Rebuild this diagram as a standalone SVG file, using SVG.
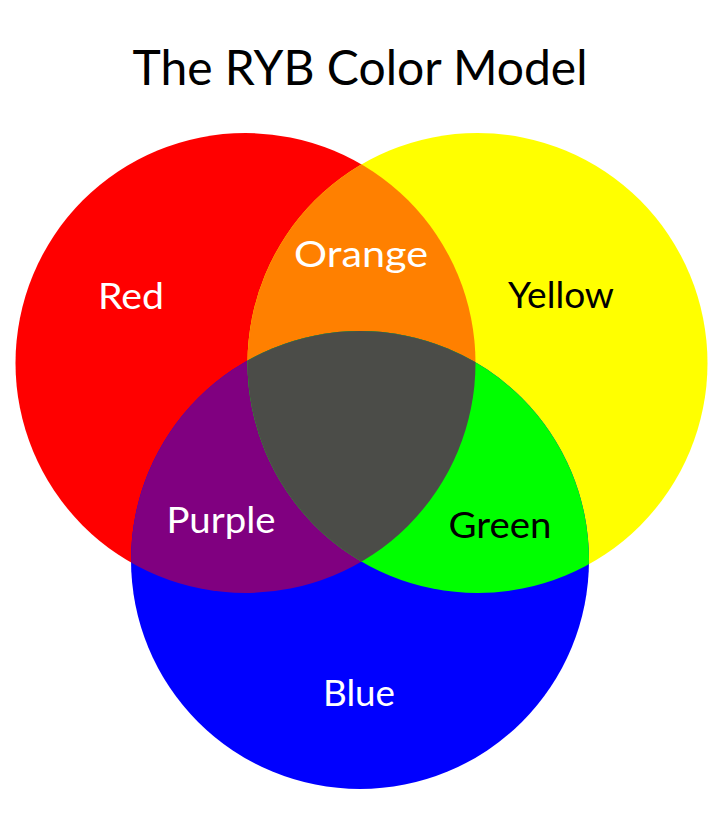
<svg xmlns="http://www.w3.org/2000/svg" width="720" height="822" viewBox="0 0 720 822">
<style>
.t{font-family:Lato,"Noto Sans","Liberation Sans",sans-serif;text-anchor:middle}
.lab{font-size:37px}
.w{fill:#ffffff}
.k{fill:#000000}
</style>
<defs>
<clipPath id="cR"><circle cx="245.5" cy="363" r="230"/></clipPath>
<clipPath id="cY"><circle cx="477.5" cy="363" r="230"/></clipPath>
<clipPath id="cB"><circle cx="360" cy="560" r="229"/></clipPath>
</defs>
<rect width="720" height="822" fill="#ffffff"/>
<g id="title"><text class="t k" x="360" y="85" font-size="48" textLength="455" lengthAdjust="spacingAndGlyphs">The RYB Color Model</text></g>
<g id="red"><circle cx="245.5" cy="363" r="230" fill="#ff0000"/></g>
<g id="yellow"><circle cx="477.5" cy="363" r="230" fill="#ffff00"/></g>
<g id="blue"><circle cx="360" cy="560" r="229" fill="#0000ff"/></g>
<g id="orange"><g clip-path="url(#cR)"><circle cx="477.5" cy="363" r="230" fill="#ff8000"/></g></g>
<g id="purple"><g clip-path="url(#cR)"><circle cx="360" cy="560" r="229" fill="#800080"/></g></g>
<g id="green"><g clip-path="url(#cY)"><circle cx="360" cy="560" r="229" fill="#00ff00"/></g></g>
<g id="center"><g clip-path="url(#cR)"><g clip-path="url(#cY)"><circle cx="360" cy="560" r="229" fill="#4b4c48"/></g></g></g>
<g id="labels">
<text class="t lab w" x="131" y="309" textLength="66" lengthAdjust="spacingAndGlyphs">Red</text>
<text class="t lab w" x="361" y="267" textLength="134" lengthAdjust="spacingAndGlyphs">Orange</text>
<text class="t lab k" x="561" y="308" textLength="106" lengthAdjust="spacingAndGlyphs">Yellow</text>
<text class="t lab w" x="221" y="533" textLength="109" lengthAdjust="spacingAndGlyphs">Purple</text>
<text class="t lab k" x="500" y="538" textLength="103" lengthAdjust="spacingAndGlyphs">Green</text>
<text class="t lab w" x="359" y="706" textLength="72" lengthAdjust="spacingAndGlyphs">Blue</text>
</g>
</svg>
